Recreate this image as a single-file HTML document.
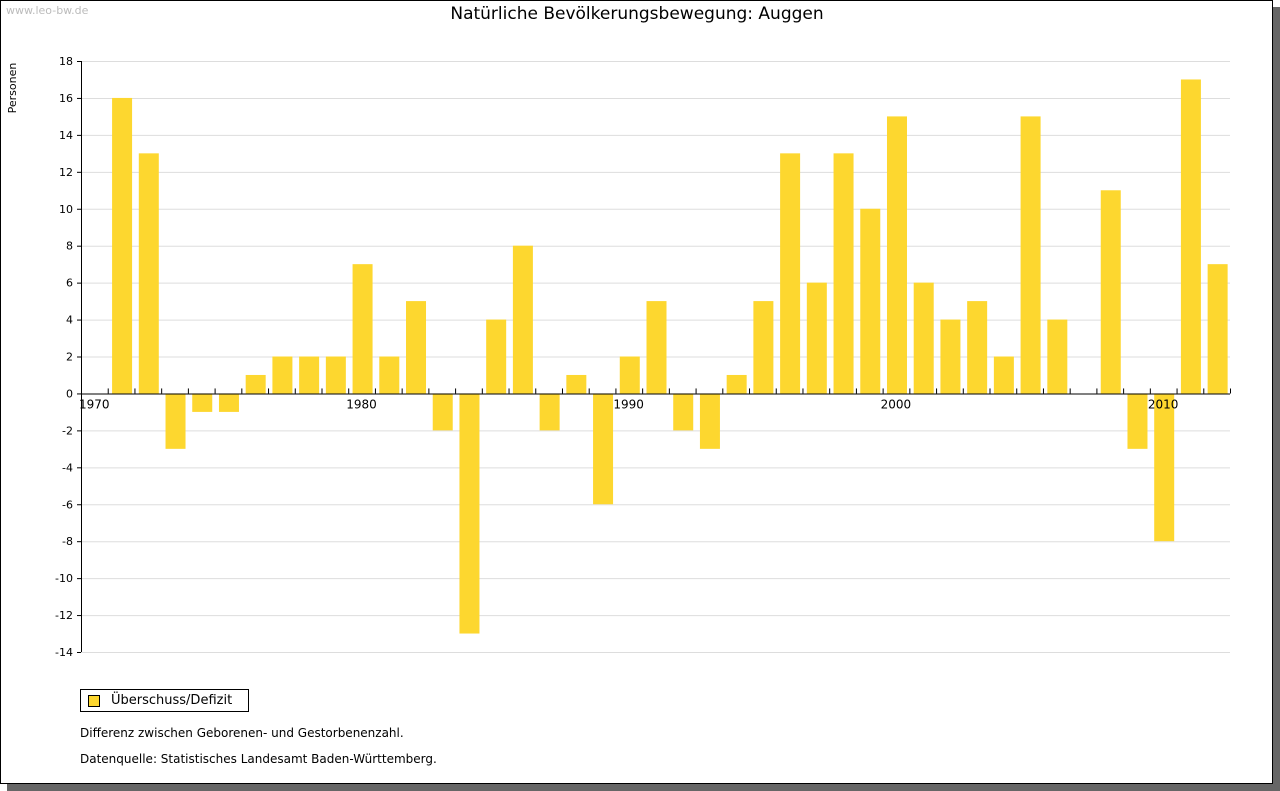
<!DOCTYPE html>
<html><head><meta charset="utf-8"><style>
body{margin:0;width:1280px;height:791px;background:#fff;font-family:"DejaVu Sans","Liberation Sans",sans-serif;position:relative;overflow:hidden}
#frame{position:absolute;left:0;top:0;width:1271px;height:782px;border:1px solid #000;background:#fff;box-shadow:7px 7px 0 #666}
.t{position:absolute;white-space:nowrap}
</style></head><body>
<div id="frame"></div>
<div class="t" style="left:6px;top:4px;font-size:11px;color:#bbb">www.leo-bw.de</div>
<div class="t" style="left:0;width:1274px;text-align:center;top:4px;font-size:17px;color:#000">Natürliche Bevölkerungsbewegung: Auggen</div>
<svg id="chart" width="1280" height="791" style="position:absolute;left:0;top:0"></svg>
<div style="position:absolute;left:80px;top:689px;width:167px;height:21px;border:1px solid #000;background:#fff">
<div style="position:absolute;left:7px;top:5px;width:10px;height:10px;border:1px solid #000;background:#fdd72f"></div>
<div class="t" style="left:30px;top:3px;font-size:13px">Überschuss/Defizit</div></div>
<div class="t" style="left:80px;top:726px;font-size:12px">Differenz zwischen Geborenen- und Gestorbenenzahl.</div>
<div class="t" style="left:80px;top:752px;font-size:12px">Datenquelle: Statistisches Landesamt Baden-Württemberg.</div>
<script>
const years=[1971,1972,1973,1974,1975,1976,1977,1978,1979,1980,1981,1982,1983,1984,1985,1986,1987,1988,1989,1990,1991,1992,1993,1994,1995,1996,1997,1998,1999,2000,2001,2002,2003,2004,2005,2006,2007,2008,2009,2010,2011,2012];
const values=[16,13,-3,-1,-1,1,2,2,2,7,2,5,-2,-13,4,8,-2,1,-6,2,5,-2,-3,1,5,13,6,13,10,15,6,4,5,2,15,4,0,11,-3,-8,17,7];
const yTicks=[18,16,14,12,10,8,6,4,2,0,-2,-4,-6,-8,-10,-12,-14];
const xLabels=[1970,1980,1990,2000,2010];
const NS='http://www.w3.org/2000/svg',svg=document.getElementById('chart');
const X0=81,X1=1230,Y0=61,Y1=652,yMax=18,yMin=-14,yr0=1970,yr1=2013;
const sx=y=>X0+(y-yr0)*(X1-X0)/(yr1-yr0);
const sy=v=>Y0+(yMax-v)*(Y1-Y0)/(yMax-yMin);
function mk(t,a){const e=document.createElementNS(NS,t);for(const k in a)e.setAttribute(k,a[k]);svg.appendChild(e);return e;}
yTicks.forEach(v=>{
 const g=mk('line',{x1:X0,x2:X1,y1:sy(v)+.5,y2:sy(v)+.5,stroke:'#ddd'});
 
 
 mk('line',{x1:X0-4,x2:X0,y1:sy(v)+.5,y2:sy(v)+.5,stroke:'#000'});
 const t=mk('text',{x:X0-8,y:sy(v)+4,'text-anchor':'end','font-size':11,'font-family':'DejaVu Sans, sans-serif'});
 t.textContent=v;
 
 
});
const bw=20,step=(X1-X0)/(yr1-yr0);
years.forEach((y,i)=>{
 const v=values[i];const c=sx(y)+step/2+1;
 const top=Math.min(sy(v),sy(0)),h=Math.abs(sy(v)-sy(0));
 const r=mk('rect',{x:c-bw/2,y:top,width:bw,height:h,fill:'#fdd72f'});
 
 
});
const ax=mk('line',{x1:X0+.5,x2:X0+.5,y1:Y0,y2:Y1,stroke:'#000'});


const xa=mk('line',{x1:X0,x2:X1,y1:sy(0)+.5,y2:sy(0)+.5,stroke:'#000'});


for(let y=yr0;y<=yr1;y++){mk('line',{x1:sx(y)+.5,x2:sx(y)+.5,y1:sy(0)-5,y2:sy(0),stroke:'#000'});}
xLabels.forEach(y=>{
 const t=mk('text',{x:sx(y)-2,y:sy(0)+15,'font-size':12,'font-family':'DejaVu Sans, sans-serif'});
 t.textContent=y;
 
 
});
const yt=mk('text',{x:16,y:88,'font-size':11,'font-family':'DejaVu Sans, sans-serif','text-anchor':'middle',transform:'rotate(-90 16 88)'});
yt.textContent='Personen';


</script>
</body></html>
